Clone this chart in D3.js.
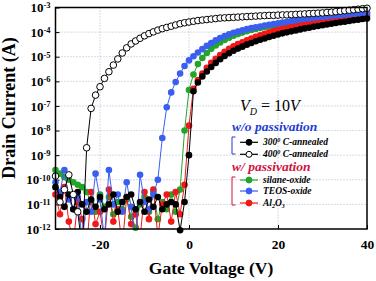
<!DOCTYPE html>
<html>
<head>
<meta charset="utf-8">
<script src="https://cdn.jsdelivr.net/npm/d3@7"></script>
<style>
  body { margin: 0; background: #fff; }
  svg { display: block; }
  text { font-family: "Liberation Serif", "Times New Roman", serif; }
</style>
</head>
<body>
<div class="chart-container"></div>
<script>
// gate voltage sweep (V)
const gateVoltage = [
  -30, -29, -28, -27, -26, -25, -24, -23, -22, -21, -20, -19, -18, -17, -16, -15,
  -14, -13, -12, -11, -10, -9, -8, -7, -6, -5, -4, -3, -2, -1, 0, 1, 2, 3, 4, 5,
  6, 7, 8, 9, 10, 11, 12, 13, 14, 15, 16, 17, 18, 19, 20, 21, 22, 23, 24, 25, 26,
  27, 28, 29, 30, 31, 32, 33, 34, 35, 36, 37, 38, 39, 40
];

// drain current, as log10(I / A)
const log300C = [
  -10.3, -10.7, -11.1, -10.6, -11.2, -10.5, -11.0, -11.3, -10.8, -11.1, -10.7, -11.2,
  -11.0, -10.6, -11.3, -10.9, -10.7, -10.6, -11.2, -10.9, -11.3, -10.8, -11.1, -10.7,
  -11.2, -11.0, -10.9, -11.0, -12.05, -10.9,
  -9.0, -6.4, -6.05, -5.8, -5.6, -5.42, -5.25, -5.1, -4.97, -4.86, -4.76, -4.67, -4.59,
  -4.51, -4.44, -4.37, -4.31, -4.26, -4.2, -4.15, -4.1,
  -4.05, -4.01, -3.97, -3.93, -3.89, -3.85, -3.82, -3.78, -3.75, -3.72, -3.69, -3.66,
  -3.63, -3.6, -3.58, -3.55, -3.52, -3.5, -3.47, -3.45
];
const log400C = [
  -9.85, -10.9, -10.4, -9.8, -10.6, -11.3, -12.8,
  -8.7, -7.1, -6.56, -6.22, -5.88, -5.61, -5.34,
  -5.09, -4.85, -4.64, -4.48, -4.36, -4.25, -4.15, -4.06, -3.99, -3.92, -3.86, -3.81,
  -3.76, -3.71, -3.66, -3.62,
  -3.59, -3.56, -3.53, -3.51, -3.49, -3.47, -3.45, -3.43, -3.42, -3.41, -3.4, -3.39,
  -3.38, -3.37, -3.36, -3.35, -3.34, -3.33, -3.32, -3.32, -3.31, -3.3, -3.3, -3.29,
  -3.28, -3.27, -3.26, -3.25, -3.24, -3.23, -3.22, -3.2, -3.19, -3.17, -3.15, -3.13,
  -3.11, -3.09, -3.07, -3.05, -3.03
];
const logSilane = [
  -9.6, -9.75, -9.9, -10.0, -10.1, -10.2, -10.3, -10.5, -10.9, -11.3, -10.6, -11.1,
  -10.7, -11.4, -10.9, -11.2, -10.8, -11.5, -11.95, -11.0, -10.7, -11.3, -10.5, -11.6,
  -10.9, -11.2, -10.6, -11.3, -10.4, -8.0,
  -6.35, -5.72, -5.3, -5.05, -4.85, -4.68, -4.54, -4.42, -4.32, -4.23, -4.15, -4.08,
  -4.02, -3.96, -3.91, -3.87, -3.83, -3.79, -3.76, -3.73, -3.7,
  -3.67, -3.64, -3.61, -3.59, -3.56, -3.54, -3.52, -3.49, -3.47, -3.45, -3.43, -3.41,
  -3.39, -3.37, -3.35, -3.33, -3.31, -3.29, -3.27, -3.25
];
const logTeos = [
  -10.1, -10.5, -9.6, -10.8, -11.2, -10.7, -12.5, -10.9, -11.3, -9.75, -10.8, -12.4,
  -9.6, -11.0, -10.6, -11.3, -10.1, -11.1, -12.6, -9.8, -10.9, -11.2, -10.6, -10.0,
  -8.3, -7.05, -6.45, -6.03, -5.68, -5.38,
  -5.15, -4.98, -4.83, -4.69, -4.56, -4.44, -4.33, -4.24, -4.16, -4.09, -4.03, -3.98,
  -3.93, -3.88, -3.84, -3.8, -3.77, -3.73, -3.7, -3.67, -3.64,
  -3.61, -3.58, -3.55, -3.52, -3.49, -3.46, -3.44, -3.42, -3.4, -3.38, -3.36, -3.34,
  -3.32, -3.3, -3.28, -3.27, -3.25, -3.24, -3.22, -3.21
];
const logAl2O3 = [
  -10.6, -11.4, -10.3, -11.7, -12.6, -10.9, -11.6, -12.8, -10.5, -11.8, -11.3, -12.5,
  -10.4, -11.7, -11.2, -12.7, -10.7, -11.8, -11.4, -12.4, -10.5, -11.6, -10.4, -12.3,
  -11.0, -10.6, -11.7, -10.5, -11.4, -10.2,
  -7.8, -6.3, -5.95, -5.68, -5.45, -5.25, -5.08, -4.93, -4.8, -4.68, -4.58, -4.49,
  -4.41, -4.33, -4.26, -4.19, -4.13, -4.07, -4.01, -3.96, -3.91,
  -3.87, -3.83, -3.79, -3.75, -3.72, -3.68, -3.65, -3.62, -3.59, -3.56, -3.53, -3.51,
  -3.48, -3.46, -3.44, -3.42, -3.4, -3.38, -3.36, -3.35
];

const xTicks = [-20, 0, 20, 40];
const yTicks = [1e-12, 1e-11, 1e-10, 1e-9, 1e-8, 1e-7, 1e-6, 1e-5, 1e-4, 1e-3];

// Setting up the frame measurements
const margin = {top: 7.5, right: 9, bottom: 52, left: 55.5};
const width = 376 - margin.left - margin.right;
const height = 281 - margin.top - margin.bottom;

const BLACK = '#000';
const BLUE = '#3a5ef0';
const GREEN = '#22a52a';
const RED = '#f01818';

// drawing order: green, red, blue, black, white on top
const series = [
  {name: 'silane-oxide', values: logSilane, stroke: GREEN, fill: GREEN},
  {name: 'Al2O3', values: logAl2O3, stroke: RED, fill: RED},
  {name: 'TEOS-oxide', values: logTeos, stroke: BLUE, fill: BLUE},
  {name: '300C', values: log300C, stroke: BLACK, fill: BLACK},
  {name: '400C', values: log400C, stroke: BLACK, fill: '#fff'}
];

const x_scale = d3.scaleLinear().domain([-30, 40]).range([0, width]);
const y_scale = d3.scaleLog().domain([1e-12, 1e-3]).range([height, 0]);

const svg = d3.select('.chart-container')
  .append('svg')
  .attr('width', 376)
  .attr('height', 281);

const chart = svg.append('g')
  .attr('transform', `translate(${margin.left}, ${margin.top})`);

chart.append('clipPath').attr('id', 'plot-clip')
  .append('rect').attr('width', width).attr('height', height);

// dotted grid
const grid = chart.append('g').attr('class', 'grid')
  .attr('stroke', '#a9b9cc').attr('stroke-width', 1).attr('stroke-dasharray', '1,2');
grid.selectAll('.gy').data(yTicks.slice(1, -1)).join('line')
  .attr('x1', 0).attr('x2', width)
  .attr('y1', d => y_scale(d)).attr('y2', d => y_scale(d));
grid.selectAll('.gx').data(xTicks.slice(0, -1)).join('line')
  .attr('y1', 0).attr('y2', height)
  .attr('x1', d => x_scale(d)).attr('x2', d => x_scale(d));

// axes
const xAxis = d3.axisBottom(x_scale)
  .tickValues(xTicks)
  .tickFormat(d => String(d))
  .tickSizeInner(-4)
  .tickSizeOuter(0)
  .tickPadding(10);
const xg = chart.append('g')
  .attr('transform', `translate(0, ${height})`)
  .call(xAxis);
xg.select('.domain').remove();
xg.selectAll('text')
  .attr('fill', '#000')
  .style('font-family', '"Liberation Serif", serif')
  .style('font-weight', 'bold')
  .style('font-size', '13.5px');

const yAxis = d3.axisLeft(y_scale)
  .tickValues(yTicks)
  .tickSizeInner(-4)
  .tickSizeOuter(0)
  .tickPadding(5);
const yg = chart.append('g').call(yAxis);
yg.select('.domain').remove();
yg.selectAll('.tick text')
  .text(null)
  .attr('fill', '#000')
  .style('font-family', '"Liberation Serif", serif')
  .style('font-weight', 'bold')
  .style('font-size', '13px')
  .call(t => {
    t.append('tspan').text('10');
    t.append('tspan').attr('dy', '-0.45em').style('font-size', '8.5px')
      .text(d => String(Math.round(Math.log10(d))));
  });

// curves
const line = d3.line()
  .x((d, i) => x_scale(gateVoltage[i]))
  .y(d => y_scale(Math.pow(10, d)));

const curves = chart.append('g').attr('class', 'curves');
series.forEach(s => {
  const g = curves.append('g');
  g.append('path')
    .attr('clip-path', 'url(#plot-clip)')
    .attr('d', line(s.values))
    .attr('fill', 'none')
    .attr('stroke', s.stroke)
    .attr('stroke-width', 1);
  g.selectAll('circle')
    .data(s.values.map((v, i) => ({v: gateVoltage[i], logI: v})).filter(d => d.logI >= -12.15))
    .join('circle')
    .attr('cx', d => x_scale(d.v))
    .attr('cy', d => y_scale(Math.pow(10, d.logI)))
    .attr('r', 3.3)
    .attr('fill', s.fill)
    .attr('stroke', s.fill === '#fff' ? BLACK : 'none')
    .attr('stroke-width', 1);
});

// frame
chart.append('rect')
  .attr('width', width).attr('height', height)
  .attr('fill', 'none').attr('stroke', '#000').attr('stroke-width', 1.5);

// axis titles
svg.append('text')
  .attr('x', 211).attr('y', 274)
  .attr('text-anchor', 'middle')
  .style('font-weight', 'bold').style('font-size', '17.5px')
  .text('Gate Voltage (V)');
svg.append('text')
  .attr('transform', 'translate(15, 108) rotate(-90)')
  .attr('text-anchor', 'middle')
  .style('font-weight', 'bold').style('font-size', '18px')
  .text('Drain Current (A)');

// V_D label
const vd = svg.append('text').attr('x', 240).attr('y', 111).style('font-size', '16px');
vd.append('tspan').style('font-style', 'italic').text('V');
vd.append('tspan').style('font-style', 'italic').style('font-size', '10px').attr('dy', 4).text('D');
vd.append('tspan').attr('dy', -4).text(' = 10');
vd.append('tspan').style('font-style', 'italic').text('V');

// legend
const legend = svg.append('g').attr('class', 'legend');
const legendGroups = [
  {title: 'w/o passivation', color: '#1f3bd6', top: 131, bracket: [137, 154],
   items: [{label: 'c300', fill: BLACK, stroke: BLACK, y: 142.3},
           {label: 'c400', fill: '#fff', stroke: BLACK, y: 154.3}]},
  {title: 'w/ passivation', color: '#d0123e', top: 171, bracket: [177, 205],
   items: [{label: 'silane-oxide', fill: GREEN, stroke: GREEN, y: 180},
           {label: 'TEOS-oxide', fill: BLUE, stroke: BLUE, y: 191},
           {label: 'Al2O3', fill: RED, stroke: RED, y: 203}]}
];

legendGroups.forEach(grp => {
  legend.append('text')
    .attr('x', 232).attr('y', grp.top)
    .attr('fill', grp.color)
    .style('font-weight', 'bold').style('font-style', 'italic').style('font-size', '13.5px')
    .text(grp.title);
  legend.append('path')
    .attr('d', `M235.5,${grp.bracket[0]}H232V${grp.bracket[1]}H235.5`)
    .attr('fill', 'none').attr('stroke', grp.color).attr('stroke-width', 1);
  grp.items.forEach(it => {
    legend.append('line')
      .attr('x1', 240).attr('x2', 258).attr('y1', it.y).attr('y2', it.y)
      .attr('stroke', it.stroke).attr('stroke-width', 1.2);
    legend.append('circle')
      .attr('cx', 249).attr('cy', it.y).attr('r', 3)
      .attr('fill', it.fill).attr('stroke', it.stroke).attr('stroke-width', 1);
    const t = legend.append('text')
      .attr('x', 263).attr('y', it.y + 3)
      .style('font-weight', 'bold').style('font-style', 'italic').style('font-size', '9.5px');
    if (it.label === 'c300' || it.label === 'c400') {
      t.append('tspan').text(it.label === 'c300' ? '300' : '400');
      t.append('tspan').attr('dy', -3).style('font-size', '6px').text('0');
      t.append('tspan').attr('dy', 3).text(' C-annealed');
    } else if (it.label === 'Al2O3') {
      t.append('tspan').text('Al');
      t.append('tspan').attr('dy', 2).style('font-size', '6px').text('2');
      t.append('tspan').attr('dy', -2).text('O');
      t.append('tspan').attr('dy', 2).style('font-size', '6px').text('3');
    } else {
      t.text(it.label);
    }
  });
});
</script>
</body>
</html>
